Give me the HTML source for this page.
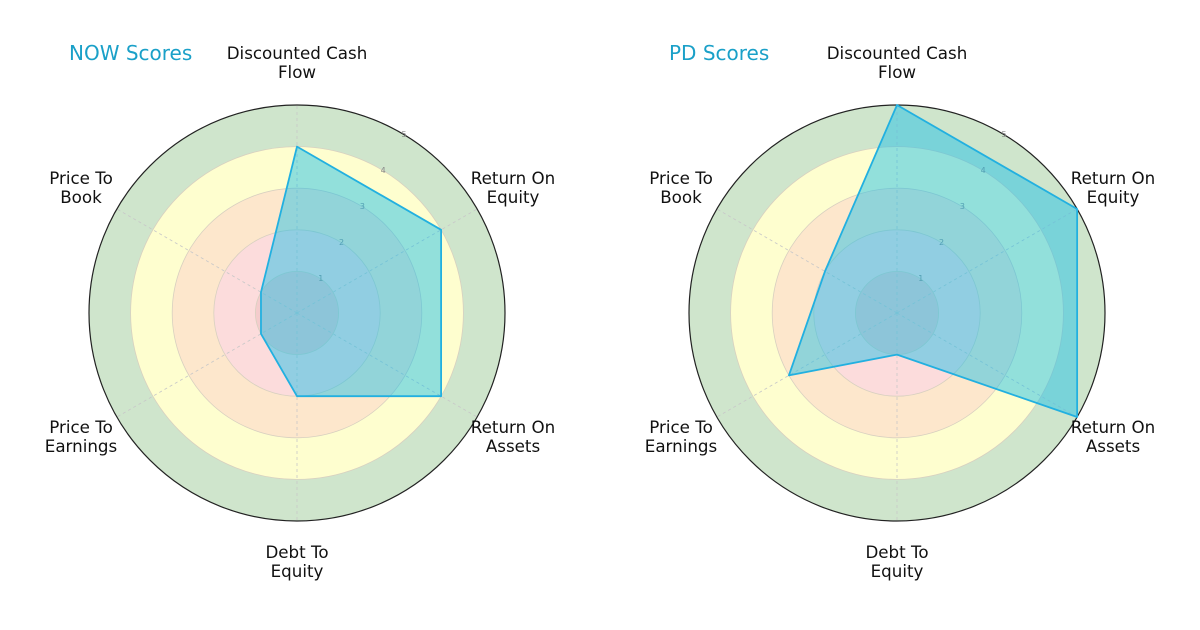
<!DOCTYPE html>
<html><head><meta charset="utf-8"><style>
body{margin:0;background:#fff}
svg text{font-family:"DejaVu Sans","Liberation Sans",sans-serif}
</style></head><body>
<svg id="chart" width="1200" height="625" viewBox="0 0 1200 625" xmlns="http://www.w3.org/2000/svg"></svg>
<script>
const categories=["Discounted Cash\nFlow","Return On\nEquity","Return On\nAssets","Debt To\nEquity","Price To\nEarnings","Price To\nBook"];
const nowValues=[4,4,4,2,1,1];
const pdValues=[5,5,5,1,3,2];
const tickLabels=["1","2","3","4","5"];
const titles=["NOW Scores","PD Scores"];
const NS="http://www.w3.org/2000/svg";
const svg=document.getElementById('chart');
function mk(tag,attrs,parent){const e=document.createElementNS(NS,tag);for(const k in attrs)e.setAttribute(k,attrs[k]);(parent||svg).appendChild(e);return e;}
const R=208,maxV=5;
function ang(i){return Math.PI/2-i*2*Math.PI/categories.length;}
function pt(cx,cy,i,v){const r=v/maxV*R,a=ang(i);return [cx+r*Math.cos(a),cy-r*Math.sin(a)];}
function drawRadar(cx,cy,vals,title,key){
  const g=mk('g',{});
  
  
  const bands=[[5,'#cfe5cc'],[4,'#fefecf'],[3,'#fde7cc'],[2,'#fcdcdc'],[1,'#f4cccc']];
  bands.forEach(b=>{const c=mk('circle',{cx,cy,r:b[0]/maxV*R,fill:b[1]},g);
    
    });
  for(let v=1;v<=4;v++){mk('circle',{cx,cy,r:v/maxV*R,fill:'none',stroke:'#d8d0c0','stroke-width':0.8},g);}
  categories.forEach((c,i)=>{const p=pt(cx,cy,i,5);
    mk('line',{x1:cx,y1:cy,x2:p[0],y2:p[1],stroke:'#c8c8c8','stroke-width':0.8,'stroke-dasharray':'3,3'},g);});
  const outer=mk('circle',{cx,cy,r:R,fill:'none',stroke:'#222','stroke-width':1.2},g);
  
  
  tickLabels.forEach((t,k)=>{const r=(k+1)/maxV*R,a=Math.PI/3;
    const tx=mk('text',{x:cx+r*Math.cos(a)+3,y:cy-r*Math.sin(a)+4,'font-size':8,fill:'#888','text-anchor':'middle'},g);
    tx.textContent=t;
    
    });
  const pts=vals.map((v,i)=>pt(cx,cy,i,v).join(',')).join(' ');
  const poly=mk('polygon',{points:pts,fill:'#10bde8','fill-opacity':0.45,stroke:'#22b0e0','stroke-width':1.8,'stroke-linejoin':'round'},g);
  
  
  const lx=[0,216,216,0,-216,-216];
  const ly=[59,184,433,558,433,184];
  categories.forEach((c,i)=>{
    const x=cx+lx[i],y=ly[i];
    const lines=c.split('\n');
    const tx=mk('text',{x,y,'font-size':16.7,fill:'#111','text-anchor':'middle'},g);
    lines.forEach((l,j)=>{const s=mk('tspan',{x,dy:j?19:0},tx);s.textContent=l;});
    
    });
  const tt=mk('text',{x:cx-228,y:60,'font-size':20,fill:'#1aa0c8'},g);
  tt.textContent=title;
  
  
}
drawRadar(297,313,nowValues,titles[0],'now');
drawRadar(897,313,pdValues,titles[1],'pd');
</script>
</body></html>
